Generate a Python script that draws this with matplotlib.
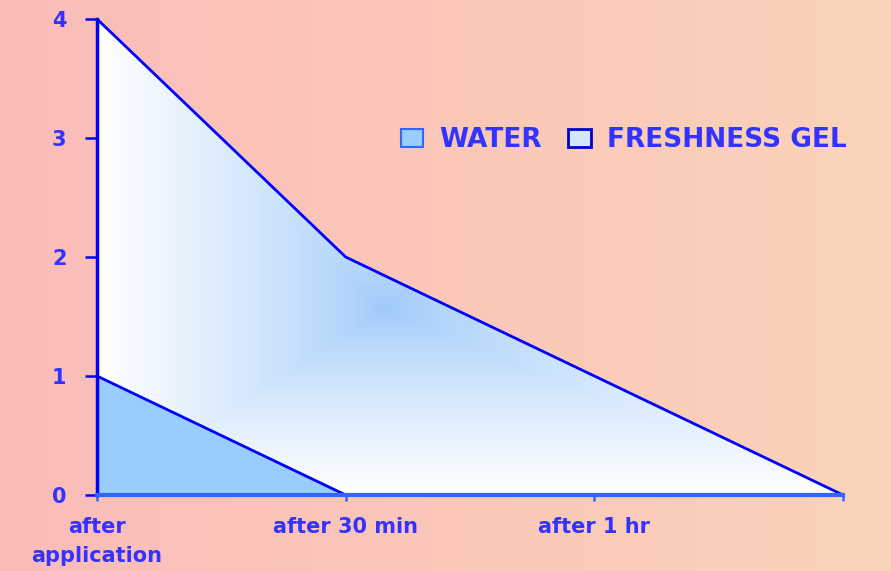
import numpy as np
import matplotlib
matplotlib.use('Agg')
import matplotlib.pyplot as plt
from matplotlib.patches import Patch

# data
stages = ['after\napplication', 'after 30 min', 'after 1 hr', '']
water = [1, 0, 0, 0]
gel = [4, 2, 1, 0]
yticks = [0, 1, 2, 3, 4]

plt.rcParams['font.family'] = ['DejaVu Sans']
plt.rcParams['font.weight'] = 'bold'

txt_col = '#3333FF'

fig = plt.figure(figsize=(8.91, 5.71), dpi=100)

# pink -> peach background
bg = fig.add_axes([0, 0, 1, 1], zorder=-1)
g = np.linspace(0, 1, 256)
c_left = np.array([250, 188, 185]) / 255
c_right = np.array([251, 211, 186]) / 255
bg_img = c_left[None, :] * (1 - g[:, None]) + c_right[None, :] * g[:, None]
bg.imshow(bg_img[None, :, :], aspect='auto', extent=[0, 1, 0, 1])
bg.axis('off')

ax = fig.add_axes([97 / 891, 76 / 571, 746 / 891, 476 / 571])
ax.patch.set_alpha(0)
x = np.arange(len(stages))

# gel area: rectangular gradient, blue centre fading to white
gel_poly = ax.fill_between(x, gel, color='none', lw=0)
gx, gy = np.meshgrid(np.linspace(0, 3, 600), np.linspace(0, 4, 400))
cx, cy = 1.15, 1.55
tx = np.where(gx < cx, (cx - gx) / cx, (gx - cx) / (3 - cx))
ty = np.where(gy < cy, (cy - gy) / cy, (gy - cy) / (4 - cy))
t = np.clip(np.maximum(tx, ty), 0, 1) ** 0.75
blue = np.array([158, 202, 250]) / 255
img = blue * (1 - t[..., None]) + t[..., None]
im = ax.imshow(img, origin='lower', extent=[0, 3, 0, 4], aspect='auto', zorder=1)
im.set_clip_path(gel_poly.get_paths()[0], transform=ax.transData)
ax.plot(x, gel, color='#0000FF', lw=2, zorder=3)

# water area
ax.fill_between(x, water, color='#99CCFF', lw=0, zorder=2)
ax.plot(x, water, color='#0000FF', lw=2, zorder=3)

ax.set_xlim(0, 3)
ax.set_ylim(0, 4)

for s in ['top', 'right']:
    ax.spines[s].set_visible(False)
ax.spines['left'].set_color('#0000FF')
ax.spines['left'].set_linewidth(2.5)
ax.spines['bottom'].set_color('#3366FF')
ax.spines['bottom'].set_linewidth(3)
ax.spines['left'].set_zorder(4)
ax.spines['bottom'].set_zorder(4)

ax.set_yticks(yticks)
ax.set_yticklabels([str(v) for v in yticks])
ax.tick_params(axis='y', direction='out', length=9, width=1.8, color='#0000FF',
               labelcolor=txt_col, labelsize=15, pad=13)
ax.set_xticks(x)
ax.set_xticklabels(stages)
ax.tick_params(axis='x', direction='out', length=4, width=1.8, color='#3366FF',
               labelcolor=txt_col, labelsize=15, pad=12)
for lab in ax.get_xticklabels():
    lab.set_linespacing(1.55)

handles = [Patch(facecolor='#99CCFF', edgecolor='#3366FF', lw=1.5, label='WATER'),
           Patch(facecolor='#D4E6FD', edgecolor='#0000CC', lw=2, label='FRESHNESS GEL')]
leg = fig.legend(handles=handles, loc='center left', bbox_to_anchor=(401 / 891, 1 - 140 / 571),
                 ncol=2, frameon=False, borderpad=0, borderaxespad=0,
                 handlelength=0.85, handleheight=0.65,
                 handletextpad=0.6, columnspacing=1.0,
                 prop={'size': 19, 'weight': 'bold'})
for tx_ in leg.get_texts():
    tx_.set_color(txt_col)

fig.savefig('out.png', dpi=100)
